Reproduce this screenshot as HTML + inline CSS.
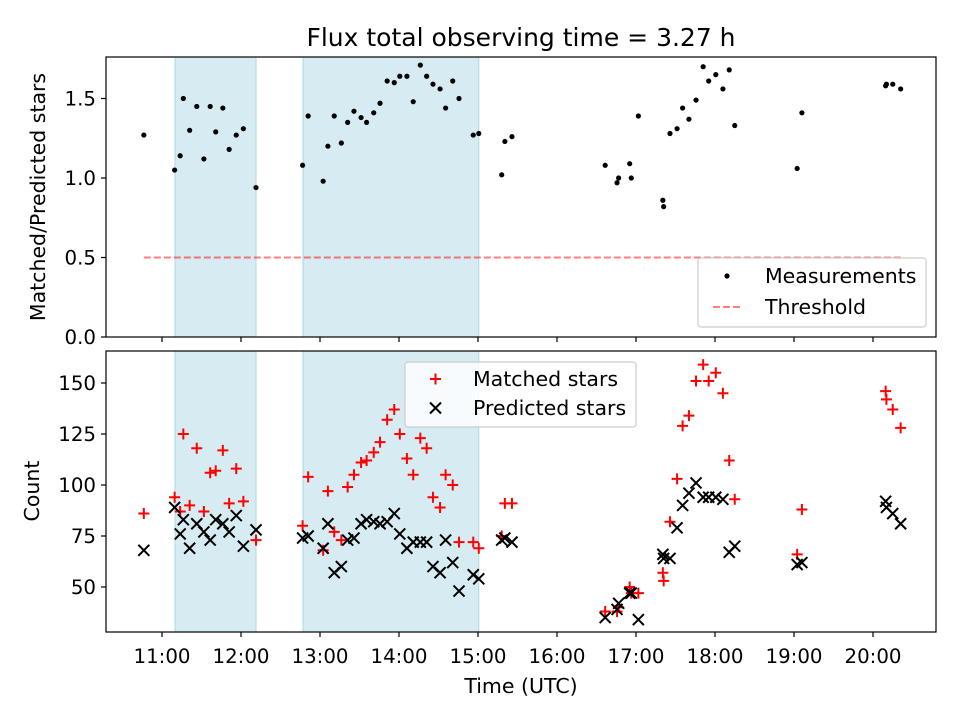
<!DOCTYPE html>
<html><head><meta charset="utf-8"><style>body{margin:0;background:#fff}svg{display:block;font-family:"DejaVu Sans","Liberation Sans",sans-serif}</style></head>
<body>
<svg id="c" width="960" height="720" xmlns="http://www.w3.org/2000/svg"></svg>
<script>
const times=[10.77,11.16,11.23,11.27,11.35,11.44,11.53,11.61,11.68,11.77,11.85,11.94,12.03,12.19,
12.78,12.85,13.04,13.10,13.18,13.27,13.35,13.43,13.52,13.59,13.68,13.76,13.85,13.94,14.01,14.10,14.18,14.27,14.35,14.43,14.52,14.59,14.68,14.76,14.94,15.01,
15.30,15.34,15.43,
16.61,16.76,16.78,16.92,16.94,17.03,17.34,17.35,17.43,17.52,17.59,17.67,17.76,17.85,17.92,18.01,18.10,18.18,18.25,19.04,19.10,20.16,20.17,20.25,20.35];
const matched=[86,94,87,125,90,118,87,106,107,117,91,108,92,73,
80,104,68,97,77,73,99,105,111,112,116,121,132,137,125,113,105,123,118,94,89,105,100,72,72,69,
75,91,91,
38,38,40,50,47,47,57,53,82,103,129,134,151,159,151,155,145,112,93,66,88,146,142,137,128];
const predicted=[68,89,76,83,69,81,77,73,83,81,77,85,70,78,
74,75,69,81,57,60,73,74,81,83,82,81,82,86,76,69,72,72,72,60,57,73,62,48,56,54,
73,74,72,
35,39,42,47,47,34,66,64,64,79,90,96,101,94,94,94,93,67,70,61,62,92,89,86,81];
const ratio=[1.27,1.05,1.14,1.50,1.30,1.45,1.12,1.45,1.29,1.44,1.18,1.27,1.31,0.94,
1.08,1.39,0.98,1.20,1.39,1.22,1.35,1.42,1.38,1.35,1.41,1.47,1.61,1.60,1.64,1.64,1.48,1.71,1.64,1.59,1.56,1.44,1.61,1.50,1.27,1.28,
1.02,1.23,1.26,
1.08,0.97,1.00,1.09,1.00,1.39,0.86,0.82,1.28,1.31,1.44,1.37,1.49,1.70,1.61,1.65,1.56,1.68,1.33,1.06,1.41,1.58,1.59,1.59,1.56];
const spans=[[11.165,12.19],[12.785,15.01]];
const threshold=0.5;
const xTicks=[11,12,13,14,15,16,17,18,19,20];
const xTickLabels=["11:00","12:00","13:00","14:00","15:00","16:00","17:00","18:00","19:00","20:00"];
const topTicks=[0,0.5,1.0,1.5];
const botTicks=[50,75,100,125,150];

const NS="http://www.w3.org/2000/svg";
const svg=document.getElementById('c');
function el(t,a,p){const e=document.createElementNS(NS,t);for(const k in a)e.setAttribute(k,a[k]);(p||svg).appendChild(e);return e;}
const L=106,R=936;
const X=t=>162+(t-11)*79;
const YT=v=>337-v*159;
const YB=v=>587-(v-50)*2.04;
const panels=[{t:57,b:337,name:'ratio-panel'},{t:351,b:632,name:'count-panel'}];
panels.forEach(p=>{spans.forEach(s=>{
 const r=el('rect',{x:X(s[0]),y:p.t,width:X(s[1])-X(s[0]),height:p.b-p.t,fill:'#add8e6','fill-opacity':0.5,stroke:'#add8e6','stroke-width':1});
 
 
});});
const th=el('line',{x1:X(times[0]),x2:X(times[times.length-1]),y1:YT(threshold),y2:YT(threshold),stroke:'#ff0000','stroke-opacity':0.5,'stroke-width':2,'stroke-dasharray':'7,3'});


times.forEach((t,i)=>{
 const c=el('circle',{cx:X(t),cy:YT(ratio[i]),r:2.6,fill:'#000'});
 
 
});
times.forEach((t,i)=>{
 const x=X(t),y=YB(matched[i]),s=5.5;
 const g=el('path',{d:`M${x-s} ${y}H${x+s}M${x} ${y-s}V${y+s}`,stroke:'#ff0000','stroke-width':2});
 
 
});
times.forEach((t,i)=>{
 const x=X(t),y=YB(predicted[i]),s=5.5;
 const g=el('path',{d:`M${x-s} ${y-s}L${x+s} ${y+s}M${x-s} ${y+s}L${x+s} ${y-s}`,stroke:'#000','stroke-width':2});
 
 
});
panels.forEach((p,pi)=>{
 const f=el('rect',{x:L,y:p.t,width:R-L,height:p.b-p.t,fill:'none',stroke:'#000','stroke-width':1.2});
 
 
 xTicks.forEach((t,i)=>{
  el('line',{x1:X(t),x2:X(t),y1:p.b,y2:p.b+5,stroke:'#000','stroke-width':1.2});
  if(pi===1){const tx=el('text',{x:X(t),y:p.b+31,'text-anchor':'middle','font-size':19.8});tx.textContent=xTickLabels[i];
   
   }
 });
});
topTicks.forEach(v=>{el('line',{x1:L-5,x2:L,y1:YT(v),y2:YT(v),stroke:'#000','stroke-width':1.2});
 const tx=el('text',{x:L-10,y:YT(v)+7,'text-anchor':'end','font-size':19.8});tx.textContent=v.toFixed(1);
 
 });
botTicks.forEach(v=>{el('line',{x1:L-5,x2:L,y1:YB(v),y2:YB(v),stroke:'#000','stroke-width':1.2});
 const tx=el('text',{x:L-10,y:YB(v)+7,'text-anchor':'end','font-size':19.8});tx.textContent=v;
 
 });
</script>
<svg width="960" height="720" style="position:absolute;left:0;top:0" xmlns="http://www.w3.org/2000/svg" font-family="DejaVu Sans, Liberation Sans, sans-serif">
 <text x="521" y="46" text-anchor="middle" font-size="25">Flux total observing time = 3.27 h</text>
 <text transform="translate(45,197) rotate(-90)" text-anchor="middle" font-size="20.5">Matched/Predicted stars</text>
 <text transform="translate(39,491) rotate(-90)" text-anchor="middle" font-size="20.5">Count</text>
 <text x="521" y="693" text-anchor="middle" font-size="20.5">Time (UTC)</text>
 <g>
  <rect x="698" y="258" width="228" height="69" rx="3" fill="#fff" fill-opacity="0.8" stroke="#ccc" stroke-width="1.2"/>
  <circle cx="727" cy="276" r="2.6" fill="#000"/>
  <text x="765" y="283" font-size="20.5">Measurements</text>
  <line x1="713" x2="741" y1="307" y2="307" stroke="#ff0000" stroke-opacity="0.5" stroke-width="2" stroke-dasharray="7,3"/>
  <text x="765" y="314" font-size="20.5">Threshold</text>
 </g>
 <g>
  <rect x="405" y="362" width="231" height="65" rx="3" fill="#fff" fill-opacity="0.8" stroke="#ccc" stroke-width="1.2"/>
  <path d="M430 379H441M435.5 373.5V384.5" stroke="#ff0000" stroke-width="2"/>
  <text x="473" y="386" font-size="20.5">Matched stars</text>
  <path d="M430 402.5L441 413.5M430 413.5L441 402.5" stroke="#000" stroke-width="2"/>
  <text x="473" y="415" font-size="20.5">Predicted stars</text>
 </g>
</svg>
</body></html>
